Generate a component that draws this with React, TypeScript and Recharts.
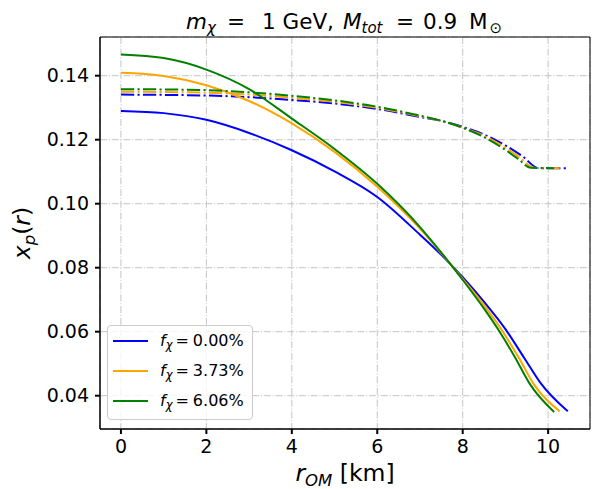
import React from 'react';
import { LineChart, Line, XAxis, YAxis, CartesianGrid, ReferenceArea } from 'recharts';

// ---- data ----
const xTicks = [0, 2, 4, 6, 8, 10];
const yTicks = [0.04, 0.06, 0.08, 0.1, 0.12, 0.14];
const xDomain = [-0.49, 10.98];
const yDomain = [0.02959, 0.15209];

const legendLabels = ['0.00%', '3.73%', '6.06%'];
const colors = ['#0000ff', '#ffa500', '#008000'];

// solid lines: x_p(r)
const rBlueSolid = [0, 1, 2, 3, 4, 5, 6, 7, 7.5, 8, 8.5, 9, 9.44, 9.82, 10.46];
const xpBlueSolid = [0.129, 0.1283, 0.1262, 0.1221, 0.1167, 0.1101, 0.1021, 0.0903, 0.084, 0.077, 0.0693, 0.0608, 0.0518, 0.044, 0.0351];

const rOrangeSolid = [0, 1, 2, 3, 4, 5, 6, 7, 7.5, 8, 8.5, 8.94, 9.32, 9.66, 10.27];
const xpOrangeSolid = [0.1409, 0.1399, 0.137, 0.1321, 0.1251, 0.1162, 0.1053, 0.0922, 0.0845, 0.0765, 0.0683, 0.06, 0.0517, 0.0437, 0.0351];

const rGreenSolid = [0, 1, 2, 3, 4, 5, 6, 7, 7.5, 8, 8.5, 8.85, 9.22, 9.57, 10.14];
const xpGreenSolid = [0.1466, 0.1455, 0.1419, 0.1358, 0.1266, 0.1171, 0.1062, 0.0927, 0.0847, 0.0762, 0.0672, 0.0603, 0.0521, 0.0437, 0.0349];

// dash-dot lines
const rBlueDash = [0, 1, 2, 3, 4, 5, 6, 7, 7.5, 8, 8.5, 9, 9.4, 9.78, 10.46];
const xpBlueDash = [0.1341, 0.134, 0.1338, 0.1333, 0.1324, 0.1313, 0.1296, 0.1271, 0.1259, 0.124, 0.1216, 0.1182, 0.1148, 0.1111, 0.1111];

const rOrangeDash = [0, 1, 2, 3, 4, 5, 6, 7, 7.5, 8, 8.5, 9, 9.35, 9.67, 10.27];
const xpOrangeDash = [0.135, 0.1349, 0.1347, 0.1341, 0.1331, 0.1318, 0.13, 0.1273, 0.1259, 0.1238, 0.1212, 0.1175, 0.1143, 0.1112, 0.1111];

const rGreenDash = [0, 1, 2, 3, 4, 5, 6, 7, 7.5, 8, 8.5, 9, 9.3, 9.59, 10.14];
const xpGreenDash = [0.1358, 0.1357, 0.1355, 0.1348, 0.1337, 0.1323, 0.1303, 0.1275, 0.1259, 0.1237, 0.1208, 0.1168, 0.114, 0.1112, 0.1111];

const toPts = (rs: number[], vs: number[]) => rs.map((r, i) => ({ r, xp: vs[i] }));

const DASHDOT = '13.3 3.3 2.1 3.3';
const series = [
  { key: 'bs', data: toPts(rBlueSolid, xpBlueSolid), color: colors[0], dash: undefined as string | undefined },
  { key: 'bd', data: toPts(rBlueDash, xpBlueDash), color: colors[0], dash: DASHDOT },
  { key: 'os', data: toPts(rOrangeSolid, xpOrangeSolid), color: colors[1], dash: undefined },
  { key: 'od', data: toPts(rOrangeDash, xpOrangeDash), color: colors[1], dash: DASHDOT },
  { key: 'gs', data: toPts(rGreenSolid, xpGreenSolid), color: colors[2], dash: undefined },
  { key: 'gd', data: toPts(rGreenDash, xpGreenDash), color: colors[2], dash: DASHDOT },
];

const FONT = 'DejaVu Sans, Verdana, sans-serif';

const TitleLabel = () => (
  <text y={29} fontSize={21.5} fontFamily={FONT} fill="#000">
    <tspan x={186} fontStyle="italic">m</tspan>
    <tspan fontStyle="italic" fontSize={15} dy={4}>χ</tspan>
    <tspan x={227} dy={-4}>=</tspan>
    <tspan x={262}>1 GeV,</tspan>
    <tspan x={343} fontStyle="italic">M</tspan>
    <tspan fontStyle="italic" fontSize={15} dy={4}>tot</tspan>
    <tspan x={396} dy={-4}>=</tspan>
    <tspan x={423}>0.9</tspan>
    <tspan x={469}>M</tspan>
    <tspan fontSize={15} dx={2} dy={4}>⊙</tspan>
  </text>
);

const XLabel = () => (
  <text x={345} y={481} textAnchor="middle" fontSize={23.5} fontFamily={FONT} fill="#000">
    <tspan fontStyle="italic">r</tspan>
    <tspan fontStyle="italic" fontSize={16.5} dy={5}>OM</tspan>
    <tspan dy={-5}> [km]</tspan>
  </text>
);

const YLabel = () => (
  <text
    x={30}
    y={233}
    transform="rotate(-90, 30, 233)"
    textAnchor="middle"
    fontSize={23.5}
    fontFamily={FONT}
    fill="#000"
  >
    <tspan fontStyle="italic">x</tspan>
    <tspan fontStyle="italic" fontSize={16.5} dy={5}>p</tspan>
    <tspan dy={-5}>(</tspan>
    <tspan fontStyle="italic">r</tspan>
    <tspan>)</tspan>
  </text>
);

const LegendBox = () => (
  <div
    style={{
      position: 'absolute',
      left: 106.5,
      top: 325,
      width: 146,
      height: 95,
      border: '1px solid #cccccc',
      borderRadius: 4,
      background: 'rgba(255,255,255,0.8)',
      boxSizing: 'border-box',
    }}
  >
    <svg width={146} height={95} style={{ position: 'absolute', left: -1, top: -1 }}>
      {legendLabels.map((lab, i) => (
        <g key={lab}>
          <line x1={6} x2={41} y1={16 + i * 30} y2={16 + i * 30} stroke={colors[i]} strokeWidth={2} />
          <text x={53} y={21 + i * 30} fontSize={16} fontFamily={FONT} fill="#000">
            <tspan fontStyle="italic">f</tspan>
            <tspan fontStyle="italic" fontSize={11.5} dy={3}>χ</tspan>
            <tspan dy={-3} dx={3}>=</tspan>
            <tspan dx={4}>{lab}</tspan>
          </text>
        </g>
      ))}
    </svg>
  </div>
);

export default function App() {
  return (
    <div style={{ position: 'absolute', left: 0, top: 0, width: 592, height: 489, background: '#fff' }}>
      <LineChart width={592} height={489} margin={{ top: 37, right: 2, bottom: 0, left: 0 }}>
        <CartesianGrid
          stroke="#c4c4c4"
          strokeWidth={1}
          strokeDasharray="7 1.8 1.1 1.8"
          horizontal
          vertical
        />
        <XAxis
          dataKey="r"
          type="number"
          domain={xDomain}
          ticks={xTicks}
          allowDataOverflow
          height={60}
          tickSize={5}
          tickMargin={6}
          axisLine={{ stroke: '#000', strokeWidth: 1 }}
          tickLine={{ stroke: '#000', strokeWidth: 2 }}
          tick={{ fontSize: 19, fill: '#000', fontFamily: FONT }}
          label={{ content: () => <XLabel /> }}
        />
        <YAxis
          type="number"
          domain={yDomain}
          ticks={yTicks}
          allowDataOverflow
          width={100}
          tickSize={5}
          tickMargin={6}
          tickFormatter={(v: number) => v.toFixed(2)}
          axisLine={{ stroke: '#000', strokeWidth: 1 }}
          tickLine={{ stroke: '#000', strokeWidth: 2 }}
          tick={{ fontSize: 19, fill: '#000', fontFamily: FONT }}
          label={{ content: () => <YLabel /> }}
        />
        {series.map((s) => (
          <Line
            key={s.key}
            data={s.data}
            dataKey="xp"
            type="monotone"
            stroke={s.color}
            strokeWidth={2}
            strokeDasharray={s.dash}
            dot={false}
            activeDot={false}
            isAnimationActive={false}
          />
        ))}
        <ReferenceArea
          x1={xDomain[0]}
          x2={xDomain[1]}
          y1={yDomain[0]}
          y2={yDomain[1]}
          fill="none"
          fillOpacity={0}
          stroke="#000"
          strokeWidth={1}
          ifOverflow="visible"
          label={{ content: () => <TitleLabel /> }}
        />
      </LineChart>
      <LegendBox />
    </div>
  );
}
